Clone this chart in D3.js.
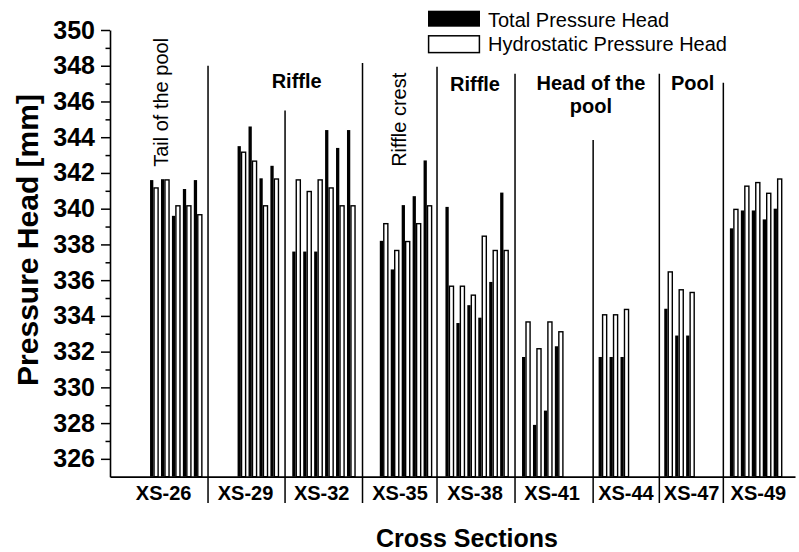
<!DOCTYPE html>
<html>
<head>
<meta charset="utf-8">
<script src="https://cdn.jsdelivr.net/npm/d3@7"></script>
<style>
  html, body { margin: 0; padding: 0; background: #fff; }
  svg { display: block; font-family: "Liberation Sans", Arial, Helvetica, sans-serif; }
</style>
</head>
<body>
<script>
// Cross sections along the reach and the measurement slot where each one starts
const sections = ["XS-26", "XS-29", "XS-32", "XS-35", "XS-38", "XS-41", "XS-44", "XS-47", "XS-49"];
const firstSlot = [0, 8, 13, 21, 27, 34, 41, 47, 53];
// Centre of each cross-section label, in slot units
const sectionLabelSlot = [1.24, 8.73, 15.69, 22.85, 29.7, 36.75, 43.5, 49.5, 55.6];

// Total pressure head [mm] per measurement point
const totalHead = [
  [341.6, 341.65, 339.6, 341.1, 341.6],
  [343.5, 344.6, 341.7, 342.4],
  [337.6, 337.6, 337.6, 344.4, 343.4, 344.4],
  [338.2, 336.6, 340.2, 340.7, 342.7],
  [340.1, 333.6, 334.6, 333.9, 335.9, 340.9],
  [331.7, 327.9, 328.7, 332.3],
  [331.7, 331.7, 331.7],
  [334.4, 332.9, 332.9],
  [338.9, 339.9, 339.9, 339.4, 340.0]
];

// Hydrostatic pressure head [mm] per measurement point
const hydroHead = [
  [341.2, 341.65, 340.2, 340.2, 339.7],
  [343.2, 342.7, 340.2, 341.7],
  [341.65, 341.0, 341.65, 341.2, 340.2, 340.2],
  [339.2, 337.7, 338.2, 339.2, 340.2],
  [335.7, 335.7, 335.2, 338.5, 337.7, 337.7],
  [333.7, 332.2, 333.7, 333.15],
  [334.1, 334.1, 334.4],
  [336.5, 335.5, 335.35],
  [340.0, 341.3, 341.5, 340.9, 341.7]
];

// Morphological unit boundaries: slot position and top of the divider line [mm]
const dividerSlot = [5.3, 12.34, 19.42, 26.23, 33.36, 40.5, 46.55, 52.4];
const dividerTop = [348.0, 345.5, 348.15, 347.95, 347.55, 343.85, 347.55, 347.05];

// Morphological unit names
const unitLabels = [
  { lines: ["Tail of the pool"], slot: 1.65, head: 342.34, rotate: true, bold: false },
  { lines: ["Riffle"], slot: 13.4, head: 346.75, rotate: false, bold: true },
  { lines: ["Riffle crest"], slot: 23.4, head: 342.34, rotate: true, bold: false },
  { lines: ["Riffle"], slot: 29.7, head: 346.6, rotate: false, bold: true },
  { lines: ["Head of the", "pool"], slot: 40.3, head: 346.65, rotate: false, bold: true },
  { lines: ["Pool"], slot: 49.6, head: 346.65, rotate: false, bold: true }
];

const yTicks = d3.range(326, 351, 2);
const yMinorTicks = d3.range(327, 350, 2);
const seriesNames = ["Total Pressure Head", "Hydrostatic Pressure Head"];

const W = 799, H = 552;
const svg = d3.select("body").append("svg").attr("width", W).attr("height", H);

const y = d3.scaleLinear().domain([325, 350]).range([476.7, 30]);
const x = d3.scaleLinear().domain([-3.66, 58.95]).range([110, 795]);
const pitch = x(1) - x(0);
const blackW = pitch * 0.3;
const whiteW = pitch * 0.5;
const sw = 1.4;

// Flatten the measurements into bar records
const bars = [];
sections.forEach((s, g) => {
  totalHead[g].forEach((v, i) => {
    bars.push({ slot: firstSlot[g] + i, total: v, hydro: hydroHead[g][i] });
  });
});

const plot = svg.append("g");

// Black bars: total pressure head
plot.selectAll("rect.total").data(bars).join("rect")
  .attr("class", "total")
  .attr("x", d => x(d.slot))
  .attr("y", d => y(d.total))
  .attr("width", blackW)
  .attr("height", d => y(325) - y(d.total))
  .attr("fill", "#000");

// White outlined bars: hydrostatic pressure head
plot.selectAll("rect.hydro").data(bars).join("rect")
  .attr("class", "hydro")
  .attr("x", d => x(d.slot) + blackW + sw / 2)
  .attr("y", d => y(d.hydro) + sw / 2)
  .attr("width", whiteW - sw)
  .attr("height", d => y(325) - y(d.hydro) - sw / 2)
  .attr("fill", "#fff")
  .attr("stroke", "#000")
  .attr("stroke-width", sw);

// Divider lines between morphological units, running down through the label row
plot.selectAll("line.divider").data(dividerSlot).join("line")
  .attr("class", "divider")
  .attr("x1", d => x(d)).attr("x2", d => x(d))
  .attr("y1", (d, i) => y(dividerTop[i]))
  .attr("y2", 503)
  .attr("stroke", "#000")
  .attr("stroke-width", 1.5);

// Y axis: major ticks with labels, minor ticks between
const yAxis = svg.append("g").attr("transform", `translate(${x.range()[0]},0)`)
  .call(d3.axisLeft(y).tickValues(yTicks).tickSize(9).tickSizeOuter(0)
    .tickPadding(6).tickFormat(d3.format("d")));
yAxis.select(".domain").attr("stroke-width", 1.6);
yAxis.selectAll(".tick line").attr("stroke-width", 1.5);
yAxis.selectAll(".tick text")
  .attr("font-size", 25).attr("font-weight", "bold")
  .attr("font-family", "'Liberation Sans', Arial, sans-serif")
  .attr("fill", "#000");

const yMinor = svg.append("g").attr("transform", `translate(${x.range()[0]},0)`)
  .call(d3.axisLeft(y).tickValues(yMinorTicks).tickSize(4.5).tickSizeOuter(0).tickFormat(""));
yMinor.select(".domain").remove();
yMinor.selectAll(".tick line").attr("stroke-width", 1.5);

// X axis baseline
const xAxis = svg.append("g").attr("transform", `translate(0,${y(325)})`)
  .call(d3.axisBottom(x).tickValues([]).tickSizeOuter(0));
xAxis.select(".domain").attr("stroke-width", 1.8);

// Cross-section labels
svg.selectAll("text.section").data(sections).join("text")
  .attr("class", "section")
  .attr("x", (d, i) => x(sectionLabelSlot[i]))
  .attr("y", 500)
  .attr("text-anchor", "middle")
  .attr("font-size", 20).attr("font-weight", "bold")
  .text(d => d);

// Morphological unit labels
unitLabels.forEach(u => {
  if (u.rotate) {
    svg.append("text")
      .attr("transform", `translate(${x(u.slot)},${y(u.head)}) rotate(-90)`)
      .attr("font-size", 20)
      .attr("font-weight", u.bold ? "bold" : "normal")
      .text(u.lines[0]);
  } else {
    const t = svg.append("text")
      .attr("text-anchor", "middle")
      .attr("font-size", 20)
      .attr("font-weight", u.bold ? "bold" : "normal");
    u.lines.forEach((line, k) => {
      t.append("tspan").attr("x", x(u.slot)).attr("y", y(u.head) + k * 23).text(line);
    });
  }
});

// Axis titles
svg.append("text")
  .attr("transform", `translate(38,240) rotate(-90)`)
  .attr("text-anchor", "middle")
  .attr("font-size", 30).attr("font-weight", "bold")
  .text("Pressure Head [mm]");

svg.append("text")
  .attr("x", 467).attr("y", 547)
  .attr("text-anchor", "middle")
  .attr("font-size", 25).attr("font-weight", "bold")
  .text("Cross Sections");

// Legend
const legend = svg.append("g");
const legendRows = legend.selectAll("g").data(seriesNames).join("g")
  .attr("transform", (d, i) => `translate(428,${10.7 + i * 24.5})`);
legendRows.append("rect")
  .attr("x", (d, i) => i ? 0.6 : 0)
  .attr("y", (d, i) => i ? 0.6 : 0)
  .attr("width", (d, i) => i ? 50.8 : 52)
  .attr("height", (d, i) => i ? 16.8 : 16)
  .attr("fill", (d, i) => i ? "#fff" : "#000")
  .attr("stroke", "#000")
  .attr("stroke-width", (d, i) => i ? 1.5 : 0);
legendRows.append("text")
  .attr("x", 60).attr("y", 15.8)
  .attr("font-size", 20)
  .text(d => d);
</script>
</body>
</html>
